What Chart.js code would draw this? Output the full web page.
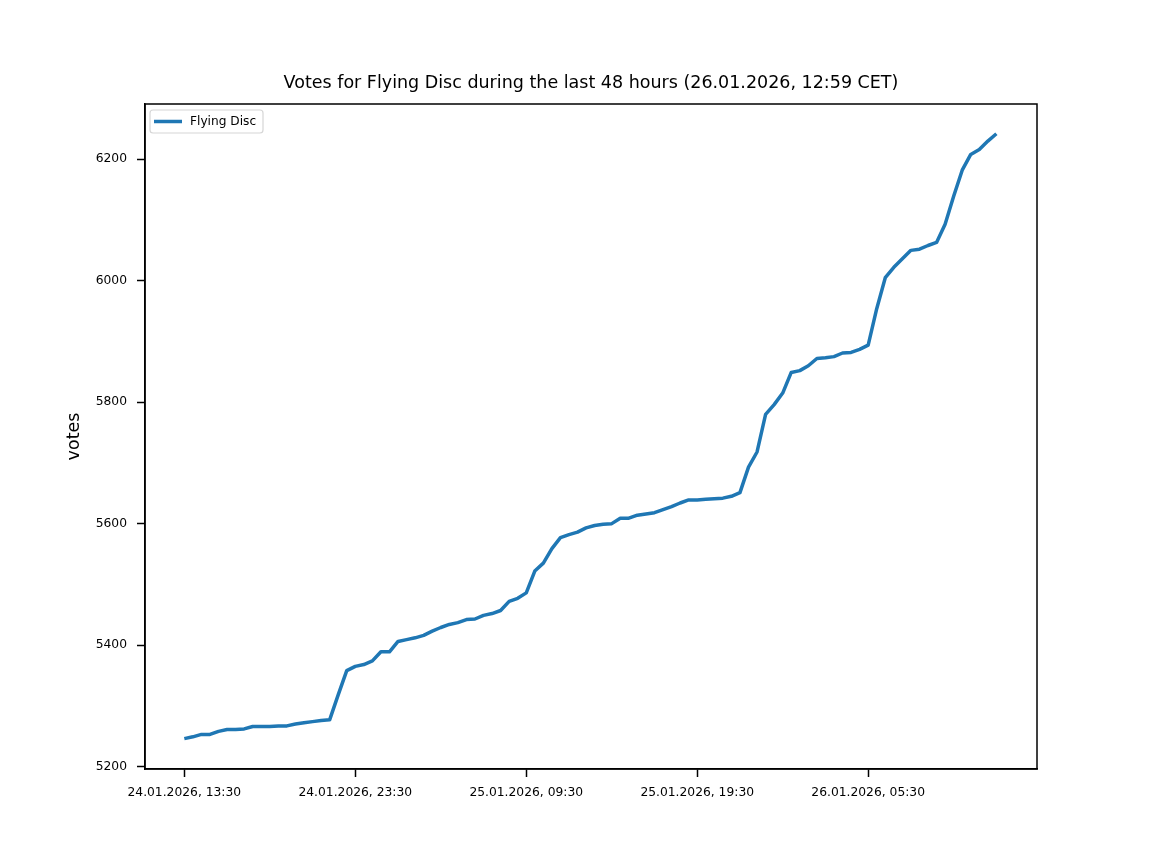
<!DOCTYPE html>
<html>
<head>
<meta charset="utf-8">
<title>Votes for Flying Disc</title>
<script src="https://cdn.jsdelivr.net/npm/chart.js@4/dist/chart.umd.min.js"></script>
<style>
  body { margin: 0; background: #fff; }
  #wrap { width: 1152px; height: 864px; }
</style>
</head>
<body>
<div id="wrap"><canvas id="lineChart" width="1152" height="864"></canvas></div>
<script>
// one sample every 30 minutes, starting 24.01.2026, 13:30
const votes = [
  5246, 5249, 5253, 5253, 5258, 5261, 5261, 5262, 5266, 5266,
  5266, 5267, 5267, 5270, 5272, 5274, 5276, 5277, 5318, 5358,
  5365, 5368, 5374, 5389, 5389, 5406, 5409, 5412, 5416, 5423,
  5429, 5434, 5437, 5442, 5443, 5449, 5452, 5457, 5472, 5477,
  5486, 5522, 5535, 5559, 5577, 5582, 5586, 5593, 5597, 5599,
  5600, 5609, 5609, 5614, 5616, 5618, 5623, 5628, 5634, 5639,
  5639, 5640, 5641, 5642, 5645, 5651, 5693, 5718, 5780, 5796,
  5815, 5849, 5852, 5860, 5872, 5873, 5875, 5881, 5882, 5887,
  5894, 5954, 6005, 6022, 6036, 6050, 6052, 6058, 6063, 6093,
  6139, 6182, 6208, 6216, 6230, 6242
];
const xTickIndex = [0, 20, 40, 60, 80];
const xTickLabels = [
  "24.01.2026, 13:30",
  "24.01.2026, 23:30",
  "25.01.2026, 09:30",
  "25.01.2026, 19:30",
  "26.01.2026, 05:30"
];
const yTicks = [5200, 5400, 5600, 5800, 6000, 6200];
const seriesName = "Flying Disc";
const chartTitle = "Votes for Flying Disc during the last 48 hours (26.01.2026, 12:59 CET)";

const FONT = "'DejaVu Sans', sans-serif";
const BLUE = "#1f77b4";

// matplotlib-like frame, title and legend
const decorations = {
  id: "decorations",
  afterDraw(chart) {
    const { ctx, chartArea: a } = chart;
    ctx.save();
    ctx.strokeStyle = "#000";
    ctx.lineWidth = 1.5;
    ctx.strokeRect(a.left, a.top, a.right - a.left, a.bottom - a.top);

    ctx.fillStyle = "#000";
    ctx.font = "17.5px " + FONT;
    ctx.textAlign = "center";
    ctx.textBaseline = "middle";
    ctx.fillText(chartTitle, (a.left + a.right) / 2, 83);

    // legend box
    const lx = a.left + 5, ly = a.top + 6, lw = 113, lh = 23;
    ctx.beginPath();
    ctx.roundRect(lx, ly, lw, lh, 3);
    ctx.fillStyle = "rgba(255,255,255,0.8)";
    ctx.fill();
    ctx.strokeStyle = "#d6d6d6";
    ctx.lineWidth = 1.2;
    ctx.stroke();
    ctx.beginPath();
    ctx.moveTo(lx + 4, ly + lh / 2);
    ctx.lineTo(lx + 32, ly + lh / 2);
    ctx.strokeStyle = BLUE;
    ctx.lineWidth = 3.5;
    ctx.stroke();
    ctx.fillStyle = "#000";
    ctx.font = "12.2px " + FONT;
    ctx.textAlign = "left";
    ctx.fillText(seriesName, lx + 40, ly + lh / 2 + 0.5);
    ctx.restore();
  }
};

new Chart(document.getElementById("lineChart"), {
  type: "line",
  data: {
    datasets: [
      {
        label: seriesName,
        data: votes.map((v, i) => ({ x: i, y: v })),
        borderColor: BLUE,
        borderWidth: 3.5,
        borderJoinStyle: "round",
        pointRadius: 0,
        tension: 0,
        fill: false,
      },
    ],
  },
  options: {
    responsive: false,
    devicePixelRatio: 1,
    animation: false,
    layout: { padding: { top: 104, right: 115, left: 0, bottom: 0 } },
    plugins: {
      legend: { display: false },
      title: { display: false },
      tooltip: { enabled: false },
    },
    scales: {
      x: {
        type: "linear",
        min: -4.6,
        max: 99.75,
        afterFit: (scale) => { scale.height = 95; },
        afterBuildTicks: (scale) => {
          scale.ticks = xTickIndex.map((v) => ({ value: v }));
        },
        grid: {
          drawOnChartArea: false,
          drawTicks: true,
          tickLength: 8,
          tickColor: "#000",
          tickWidth: 1.5,
        },
        border: { display: true, color: "#000", width: 1.5 },
        ticks: {
          padding: 8,
          maxRotation: 0,
          autoSkip: false,
          color: "#000",
          font: { family: FONT, size: 12.3 },
          callback: (value) => xTickLabels[xTickIndex.indexOf(value)],
        },
      },
      y: {
        min: 5196,
        max: 6291,
        afterFit: (scale) => { scale.width = 145; },
        afterBuildTicks: (scale) => {
          scale.ticks = yTicks.map((v) => ({ value: v }));
        },
        grid: {
          drawOnChartArea: false,
          drawTicks: true,
          tickLength: 8,
          tickColor: "#000",
          tickWidth: 1.5,
        },
        border: { display: true, color: "#000", width: 1.5 },
        ticks: {
          padding: 10,
          color: "#000",
          font: { family: FONT, size: 12.3 },
          callback: (value) => String(value),
        },
        title: {
          display: true,
          text: "votes",
          color: "#000",
          font: { family: FONT, size: 17.5 },
          padding: { top: 64 },
        },
      },
    },
  },
  plugins: [decorations],
});
</script>
</body>
</html>
